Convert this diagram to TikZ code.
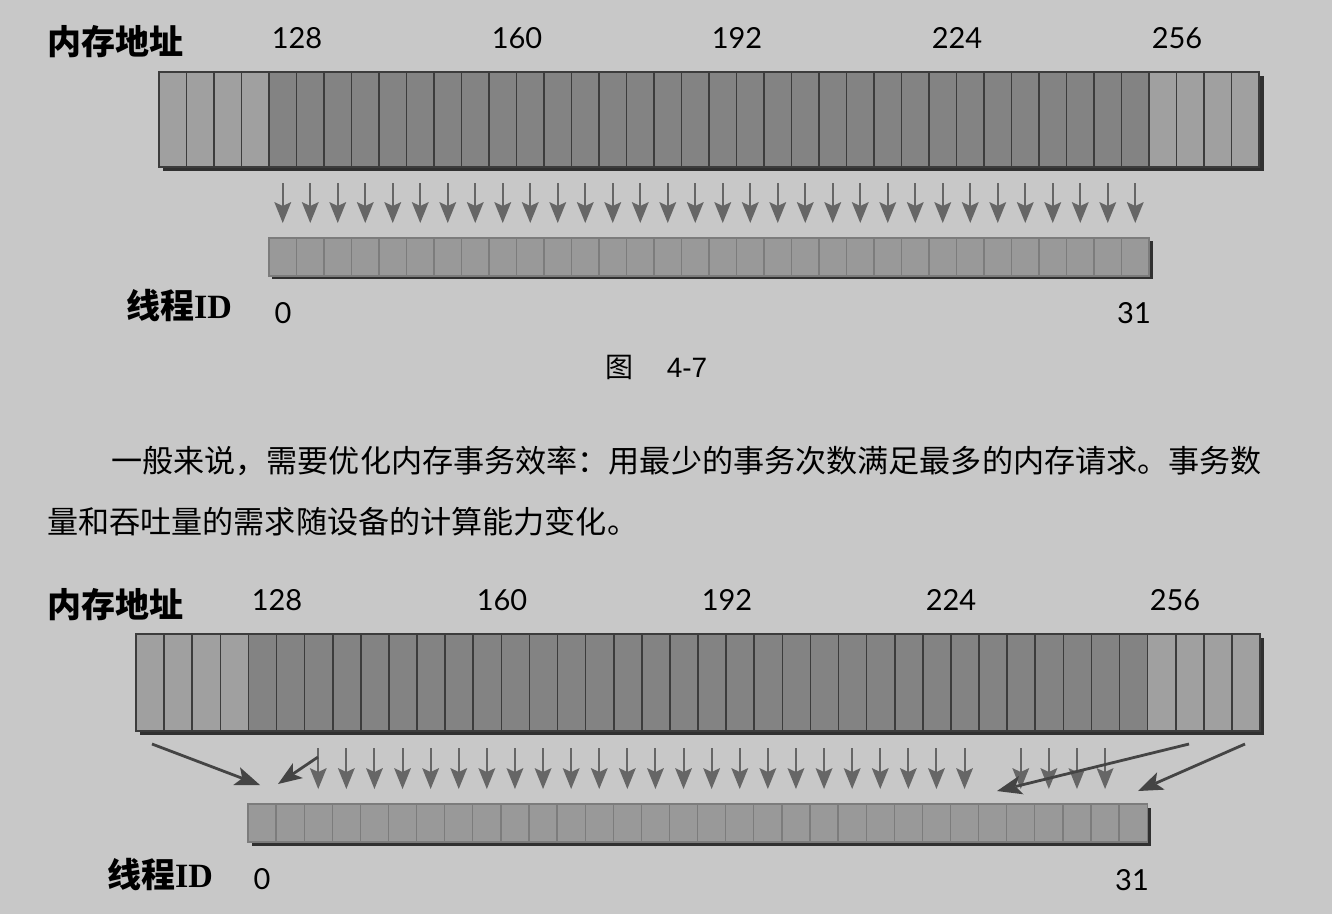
\documentclass[tikz,border=0pt]{standalone}
\usepackage{fontspec}
\setmainfont{Liberation Serif}
\newfontfamily\cjk{Noto Sans CJK SC}
\newfontfamily\numf{Lato}
\newfontfamily\capf{Liberation Sans}
\usetikzlibrary{calc}
\definecolor{bg}{HTML}{C8C8C8}
\definecolor{memdark}{HTML}{838383}
\definecolor{memlight}{HTML}{A0A0A0}
\definecolor{memline}{HTML}{3C3C3C}
\definecolor{thrfill}{HTML}{999999}
\definecolor{thrline}{HTML}{7C7C7C}
\definecolor{shadowc}{HTML}{303030}
\definecolor{varrowc}{HTML}{666666}
\definecolor{darrowc}{HTML}{444444}
% #1 shaft style, #2 head colour, #3 start, #4 tip, #5 head length, #6 half width, #7 inset distance from tip
\newcommand{\headedline}[7]{%
  \coordinate (hb) at ($(#4)!#5!(#3)$);
  \coordinate (hi) at ($(#4)!#7!(#3)$);
  \draw[#1] (#3) -- (hi);
  \fill[#2] (#4) -- ($(hb)!#6!90:(#4)$) -- (hi) -- ($(hb)!#6!-90:(#4)$) -- cycle;
}
\begin{document}
\begin{tikzpicture}[x=1pt,y=-1pt,
  memcell/.style={draw=memline, line width=1.6pt, inner sep=0pt, minimum height=#1},
  thrcell/.style={draw=thrline, line width=1.3pt, fill=thrfill, inner sep=0pt, minimum height=38pt},
  shadowbar/.style={fill=shadowc},
  vshaft/.style={draw=varrowc, line width=2pt},
  dshaft/.style={draw=darrowc, line width=2.8pt},
  numlab/.style={font=\numf\fontsize{29}{29}\selectfont, inner sep=0pt},
  cjklab/.style={font=\cjk\bfseries\fontsize{34}{34}\selectfont, inner sep=0pt},
  bodytext/.style={font=\cjk\fontsize{31.1}{31.1}\selectfont, inner sep=0pt, anchor=west}]
\useasboundingbox[fill=bg] (0,0) rectangle (1332,914);

% ---------- top diagram ----------
\path[shadowbar] (163,76) rectangle (1264,171);
\foreach \i in {0,1,2,3,36,37,38,39}
  \node[memcell=95pt, fill=memlight, minimum width=27.5pt] (am\i) at (159+13.75+27.5*\i,119.5) {};
\foreach \i in {4,...,35}
  \node[memcell=95pt, fill=memdark, minimum width=27.5pt] (am\i) at (159+13.75+27.5*\i,119.5) {};
\path[shadowbar] (272,241) rectangle (1153,279);
\foreach \i in {0,...,31}
  \node[thrcell, minimum width=27.5pt] (at\i) at (269+13.75+27.5*\i,257) {};
\foreach \i in {0,...,31}{
  \coordinate (as\i) at (269+13.75+27.5*\i,183);
  \coordinate (ae\i) at (269+13.75+27.5*\i,223);
  \headedline{vshaft}{varrowc}{as\i}{ae\i}{21pt}{8.5pt}{17pt}
}
\node[cjklab, anchor=west] (amlabel) at (47,42) {内存地址};
\node[numlab] (an128) at (297,38) {128};
\node[numlab] (an160) at (517,38) {160};
\node[numlab] (an192) at (737,38) {192};
\node[numlab] (an224) at (957,38) {224};
\node[numlab] (an256) at (1177,38) {256};
\node[cjklab, anchor=west] (atlabel) at (126,306) {线程{\rmfamily\bfseries ID}};
\node[numlab] (at0lab) at (283,313) {0};
\node[numlab] (at31lab) at (1134,313) {31};

% ---------- caption and text ----------
\node[font=\cjk\fontsize{28}{28}\selectfont, inner sep=0pt] (capfig) at (619,367) {图};
\node[font=\capf\fontsize{28}{28}\selectfont, inner sep=0pt] (capnum) at (687,368) {4-7};
\node[bodytext] (line1) at (111,461) {一般来说，需要优化内存事务效率：用最少的事务次数满足最多的内存请求。事务数};
\node[bodytext] (line2) at (47,522) {量和吞吐量的需求随设备的计算能力变化。};

% ---------- bottom diagram ----------
\path[shadowbar] (140,638) rectangle (1264,735);
\foreach \i in {0,1,2,3,36,37,38,39}
  \node[memcell=97pt, fill=memlight, minimum width=28.1pt] (bm\i) at (136+14.05+28.1*\i,682.5) {};
\foreach \i in {4,...,35}
  \node[memcell=97pt, fill=memdark, minimum width=28.1pt] (bm\i) at (136+14.05+28.1*\i,682.5) {};
\path[shadowbar] (252,808) rectangle (1151,846);
\foreach \i in {0,...,31}
  \node[thrcell, minimum width=28.1pt] (bt\i) at (248+14.05+28.1*\i,823) {};
\foreach \i in {2,...,25,27,28,29,30}{
  \coordinate (bs\i) at (248+14.05+28.1*\i,748);
  \coordinate (be\i) at (248+14.05+28.1*\i,789);
  \headedline{vshaft}{varrowc}{bs\i}{be\i}{21pt}{8.5pt}{17pt}
}
\coordinate (d1s) at (152,744);  \coordinate (d1e) at (260,785);
\coordinate (d2s) at (318,757);  \coordinate (d2e) at (278,784);
\coordinate (d3s) at (1189,744); \coordinate (d3e) at (997,791);
\coordinate (d4s) at (1245,744); \coordinate (d4e) at (1138,791);
\headedline{dshaft}{darrowc}{d1s}{d1e}{25pt}{9.5pt}{19pt}
\headedline{dshaft}{darrowc}{d2s}{d2e}{24pt}{9pt}{18pt}
\headedline{dshaft}{darrowc}{d3s}{d3e}{25pt}{9.5pt}{19pt}
\headedline{dshaft}{darrowc}{d4s}{d4e}{25pt}{9.5pt}{19pt}
\node[cjklab, anchor=west] (bmlabel) at (47,605) {内存地址};
\node[numlab] (bn128) at (277,600) {128};
\node[numlab] (bn160) at (502,600) {160};
\node[numlab] (bn192) at (727,600) {192};
\node[numlab] (bn224) at (951,600) {224};
\node[numlab] (bn256) at (1175,600) {256};
\node[cjklab, anchor=west] (btlabel) at (107,874) {线程{\rmfamily\bfseries ID}};
\node[numlab] (bt0lab) at (262,879) {0};
\node[numlab] (bt31lab) at (1132,880) {31};
\end{tikzpicture}
\end{document}
